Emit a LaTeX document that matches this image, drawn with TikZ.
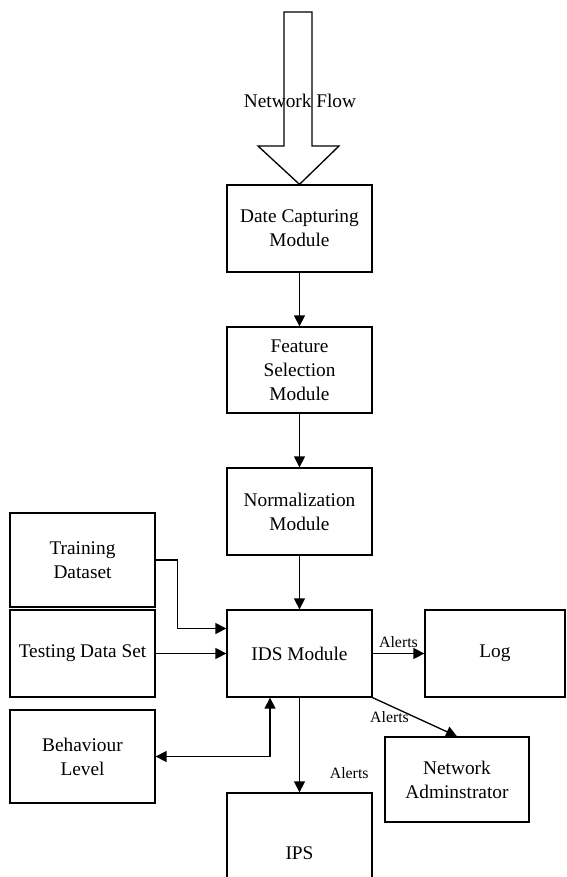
\documentclass[tikz,border=0pt]{standalone}
\usepackage{fontspec}
\setmainfont{Liberation Serif}
\usetikzlibrary{arrows.meta,calc}

\begin{document}
\begin{tikzpicture}[
    x=0.02cm, y=-0.02cm,
    font=\fontsize{11}{13.6}\selectfont,
    >={Triangle[length=0.22cm,width=0.22cm]},
    block/.style={
        rectangle, draw=black, line width=0.75pt,
        minimum width=2.9cm, minimum height=#1,
        inner sep=2pt, align=center
    },
    block/.default=1.74cm,
    flow/.style={->, line width=0.75pt},
    alert/.style={font=\fontsize{9}{10}\selectfont, inner sep=1pt}
]

\clip (0,0) rectangle (566,877);

% Main pipeline
\node[block] at (299.5, 228.5) (capture) {Date Capturing\\Module};
\node[block=1.72cm] at (299.5, 370) (feature) {Feature\\Selection\\Module};
\node[block] at (299.5, 511.5) (norm) {Normalization\\Module};
\node[block] at (299.5, 653.5) (ids) {IDS Module};

% Left column
\node[block=1.88cm] at (82.5, 560) (training) {Training\\Dataset};
\node[block] at (82.5, 653.5) (testing) {Testing Data Set};
\node[block=1.86cm] at (82.5, 756.5) (behaviour) {Behaviour\\Level};

% Outputs
\node[block, minimum width=2.8cm] at (495, 653.5) (log) {Log};
\node[block=1.7cm, minimum width=2.88cm] at (457, 779.5) (admin) {Network\\Adminstrator};
\node[block=2.4cm] at (299.5, 853) (ips) {IPS};

% Incoming traffic (hollow arrow)
\draw[line width=0.75pt] (284,12) -- (312,12) -- (312,146) -- (339,146)
    -- (capture.north) -- (258,146) -- (284,146) -- cycle;
\node at (300, 101) (flowlabel) {Network Flow};

% === CONNECTIONS ===
\draw[flow] (capture) -- (feature);
\draw[flow] (feature) -- (norm);
\draw[flow] (norm) -- (ids);
\draw[flow] (training.east) -- ++(22,0) |- ([yshift=0.5cm]ids.west);
\draw[flow] (testing) -- (ids);
\draw[<->, line width=0.75pt] (behaviour.east) -| ([xshift=-0.59cm]ids.south);

% Alerts
\draw[flow] (ids) -- node[alert, above=2pt] {Alerts} (log);
\draw[flow] (ids.south east) -- node[alert, pos=0.2, anchor=north, yshift=-0.08cm] {Alerts} (admin.north);
\draw[flow] (ids) -- node[alert, pos=0.8, anchor=west, xshift=0.56cm] {Alerts} (ips);

\end{tikzpicture}
\end{document}
